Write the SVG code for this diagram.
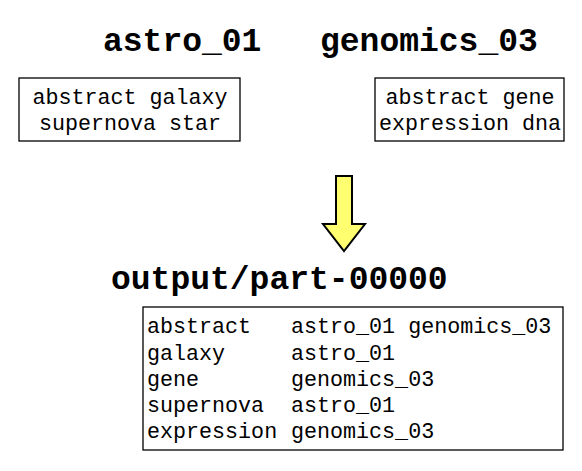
<svg xmlns="http://www.w3.org/2000/svg" width="582" height="471" viewBox="0 0 582 471">
<style>
.title{font-family:"Liberation Mono","Courier New",monospace;font-weight:bold;font-size:33px;fill:#000}
.txt{font-family:"Liberation Mono","Courier New",monospace;font-size:21.7px;fill:#000}
.box{fill:#fff;stroke:#000;stroke-width:1.3}
</style>
<rect width="582" height="471" fill="#fff"/>
<g id="astro_01">
<text class="title" x="103" y="51">astro_01</text>
<rect class="box" x="19" y="78" width="221" height="63"/>
<text class="txt" x="130" y="104" text-anchor="middle">abstract galaxy</text>
<text class="txt" x="130" y="130" text-anchor="middle">supernova star</text>
</g>
<g id="genomics_03">
<text class="title" x="320" y="51">genomics_03</text>
<rect class="box" x="375" y="78" width="189" height="63"/>
<text class="txt" x="470" y="104" text-anchor="middle">abstract gene</text>
<text class="txt" x="470" y="130" text-anchor="middle">expression dna</text>
</g>
<g id="connectors">
<polygon points="336,176 352,176 352,224 365,224 344,251 323,224 336,224" fill="#ffff70" stroke="#000" stroke-width="2" stroke-linejoin="miter"/>
</g>
<g id="output">
<text class="title" x="111" y="289">output/part-00000</text>
<rect class="box" x="143" y="307" width="420" height="143"/>
<text class="txt" x="147" y="333">abstract</text>
<text class="txt" x="291" y="333">astro_01 genomics_03</text>
<text class="txt" x="147" y="360">galaxy</text>
<text class="txt" x="291" y="360">astro_01</text>
<text class="txt" x="147" y="386">gene</text>
<text class="txt" x="291" y="386">genomics_03</text>
<text class="txt" x="147" y="412">supernova</text>
<text class="txt" x="291" y="412">astro_01</text>
<text class="txt" x="147" y="438">expression</text>
<text class="txt" x="291" y="438">genomics_03</text>
</g>
</svg>
